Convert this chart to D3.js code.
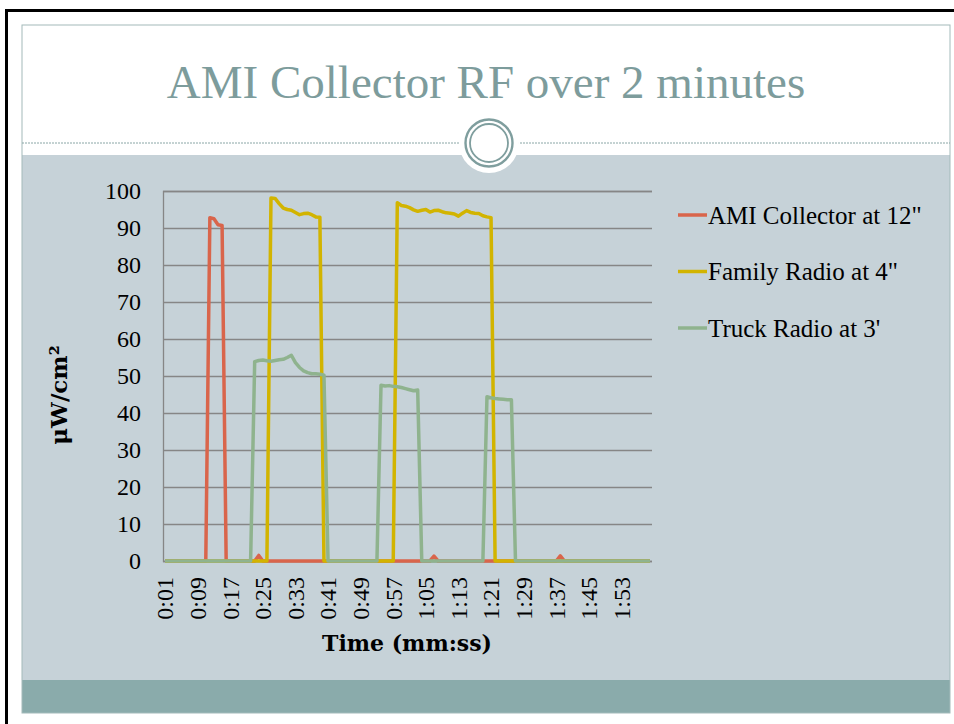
<!DOCTYPE html>
<html>
<head>
<meta charset="utf-8">
<script src="https://cdn.jsdelivr.net/npm/d3@7"></script>
<style>
  body { margin: 0; background: #fff; }
  svg { display: block; }
</style>
</head>
<body>
<svg id="canvas"></svg>
<script>
// seconds 0:01 .. 2:00, one reading per second
const seconds = d3.range(1, 121);
const tickLabels = ["0:01", "0:09", "0:17", "0:25", "0:33", "0:41", "0:49", "0:57",
  "1:05", "1:13", "1:21", "1:29", "1:37", "1:45", "1:53"];
const yTicks = [0, 10, 20, 30, 40, 50, 60, 70, 80, 90, 100];

const amiCollector = [
  0, 0, 0, 0, 0, 0, 0, 0, 0, 0,
  0, 92.8, 92.5, 90.9, 90.7, 0, 0, 0, 0, 0,
  0, 0, 0, 1.5, 0, 0, 0, 0, 0, 0,
  0, 0, 0, 0, 0, 0, 0, 0, 0, 0,
  0, 0, 0, 0, 0, 0, 0, 0, 0, 0,
  0, 0, 0, 0, 0, 0, 0, 0, 0, 0,
  0, 0, 0, 0, 0, 0, 1.3, 0, 0, 0,
  0, 0, 0, 0, 0, 0, 0, 0, 0, 0,
  0, 0, 0, 0, 0, 0, 0, 0, 0, 0,
  0, 0, 0, 0, 0, 0, 0, 1.4, 0, 0,
  0, 0, 0, 0, 0, 0, 0, 0, 0, 0,
  0, 0, 0, 0, 0, 0, 0, 0, 0, 0
];
const familyRadio = [
  0, 0, 0, 0, 0, 0, 0, 0, 0, 0,
  0, 0, 0, 0, 0, 0, 0, 0, 0, 0,
  0, 0, 0, 0, 0, 0, 98.1, 98.0, 96.6, 95.4,
  95.0, 94.8, 94.2, 93.6, 93.9, 94.0, 93.6, 93.0, 92.9, 0,
  0, 0, 0, 0, 0, 0, 0, 0, 0, 0,
  0, 0, 0, 0, 0, 0, 0, 96.8, 96.1, 95.9,
  95.5, 94.9, 94.5, 94.8, 95.0, 94.3, 94.7, 94.8, 94.4, 94.1,
  94.0, 93.8, 93.2, 94.0, 94.7, 94.2, 94.0, 93.9, 93.3, 93.0,
  92.8, 0, 0, 0, 0, 0, 0, 0, 0, 0,
  0, 0, 0, 0, 0, 0, 0, 0, 0, 0,
  0, 0, 0, 0, 0, 0, 0, 0, 0, 0,
  0, 0, 0, 0, 0, 0, 0, 0, 0, 0
];
const truckRadio = [
  0, 0, 0, 0, 0, 0, 0, 0, 0, 0,
  0, 0, 0, 0, 0, 0, 0, 0, 0, 0,
  0, 0, 53.9, 54.2, 54.3, 54.1, 54.0, 54.2, 54.4, 54.5,
  55.0, 55.6, 53.6, 52.3, 51.4, 50.9, 50.6, 50.6, 50.5, 50.2,
  0, 0, 0, 0, 0, 0, 0, 0, 0, 0,
  0, 0, 0, 47.5, 47.3, 47.4, 47.2, 47.1, 46.9, 46.6,
  46.3, 46.0, 46.2, 0, 0, 0, 0, 0, 0, 0,
  0, 0, 0, 0, 0, 0, 0, 0, 0, 44.4,
  44.1, 43.9, 43.8, 43.7, 43.6, 43.6, 0, 0, 0, 0,
  0, 0, 0, 0, 0, 0, 0, 0, 0, 0,
  0, 0, 0, 0, 0, 0, 0, 0, 0, 0,
  0, 0, 0, 0, 0, 0, 0, 0, 0, 0
];

const seriesNames = ["AMI Collector at 12\"", "Family Radio at 4\"", "Truck Radio at 3'"];
const seriesColors = ["#d9654b", "#d2b400", "#8fb38e"];

const series = [amiCollector, familyRadio, truckRadio].map((vals, i) => ({
  name: seriesNames[i],
  color: seriesColors[i],
  values: vals.map((v, j) => ({ sec: seconds[j], value: v }))
}));

const fmtSec = (s) => `${Math.floor(s / 60)}:${String(s % 60).padStart(2, "0")}`;
const tickSecs = tickLabels.map((l) => {
  const [m, s] = l.split(":");
  return +m * 60 + +s;
});

const W = 954, H = 724;
const svg = d3.select("#canvas").attr("width", W).attr("height", H);
const serif = "'Liberation Serif', 'Times New Roman', serif";
const serifBold = "'DejaVu Serif', Georgia, serif";

// slide frame
svg.append("rect").attr("x", 0).attr("y", 0).attr("width", W).attr("height", H).attr("fill", "#fff");
svg.append("rect")
  .attr("x", 22).attr("y", 155).attr("width", 928).attr("height", 525)
  .attr("fill", "#c6d2d8");
svg.append("rect")
  .attr("x", 22).attr("y", 680).attr("width", 928).attr("height", 33)
  .attr("fill", "#8aabab");
svg.append("rect")
  .attr("x", 22).attr("y", 25).attr("width", 928).attr("height", 688)
  .attr("fill", "none").attr("stroke", "#a3baba").attr("stroke-width", 1);
svg.append("line")
  .attr("x1", 22).attr("x2", 950).attr("y1", 143).attr("y2", 143)
  .attr("stroke", "#8aa6a6").attr("stroke-dasharray", "2,1").attr("stroke-width", 1);

// black border at top and left
svg.append("line").attr("x1", 5).attr("x2", W).attr("y1", 10.5).attr("y2", 10.5)
  .attr("stroke", "#000").attr("stroke-width", 3);
svg.append("line").attr("x1", 6.5).attr("x2", 6.5).attr("y1", 9).attr("y2", H)
  .attr("stroke", "#000").attr("stroke-width", 3);

// ornament circle
svg.append("circle").attr("cx", 489).attr("cy", 143).attr("r", 30).attr("fill", "#fff");
svg.append("circle").attr("cx", 489).attr("cy", 143).attr("r", 23.5)
  .attr("fill", "none").attr("stroke", "#7f9e9e").attr("stroke-width", 2.4);
svg.append("circle").attr("cx", 489).attr("cy", 143).attr("r", 19)
  .attr("fill", "none").attr("stroke", "#7f9e9e").attr("stroke-width", 1.8);

svg.append("text")
  .attr("x", 486).attr("y", 98)
  .attr("text-anchor", "middle")
  .attr("font-family", serif).attr("font-size", 47)
  .attr("fill", "#7d9c9c")
  .text("AMI Collector RF over 2 minutes");

// plot
const plot = { left: 163, right: 652, top: 191, bottom: 561 };

const x = d3.scaleBand().domain(seconds).range([plot.left, plot.right]).paddingInner(0).paddingOuter(0);
const y = d3.scaleLinear().domain([0, 100]).range([plot.bottom, plot.top]);
const cx = (s) => x(s) + x.bandwidth() / 2;

const yAxis = svg.append("g")
  .attr("transform", `translate(${plot.left},0)`)
  .call(d3.axisLeft(y).tickValues(yTicks).tickSize(-(plot.right - plot.left)).tickPadding(22));
yAxis.select(".domain").attr("stroke", "#868686").attr("stroke-width", 1.3);
yAxis.selectAll(".tick line").attr("stroke", "#868686").attr("stroke-width", 1.3);
yAxis.selectAll(".tick text")
  .attr("font-family", serif).attr("font-size", 24).attr("fill", "#000");

const xAxis = svg.append("g")
  .attr("transform", `translate(0,${plot.bottom})`)
  .call(d3.axisBottom(x).tickValues(tickSecs).tickFormat(fmtSec).tickSize(0));
xAxis.select(".domain").remove();
xAxis.selectAll(".tick text")
  .attr("font-family", serif).attr("font-size", 24).attr("fill", "#000")
  .attr("transform", "rotate(-90)")
  .attr("text-anchor", "end")
  .attr("x", -16).attr("y", 0).attr("dy", "0.35em");

const line = d3.line()
  .x((d) => cx(d.sec))
  .y((d) => y(d.value));

svg.append("g")
  .selectAll("path")
  .data(series)
  .join("path")
  .attr("fill", "none")
  .attr("stroke", (d) => d.color)
  .attr("stroke-width", 3.5)
  .attr("stroke-linejoin", "round")
  .attr("d", (d) => line(d.values));

// axis titles
svg.append("text")
  .attr("x", 407).attr("y", 651)
  .attr("text-anchor", "middle")
  .attr("font-family", serifBold).attr("font-weight", "bold").attr("font-size", 22)
  .text("Time (mm:ss)");
svg.append("text")
  .attr("transform", "translate(67,395) rotate(-90)")
  .attr("text-anchor", "middle")
  .attr("font-family", serifBold).attr("font-weight", "bold").attr("font-size", 23)
  .text("μW/cm²");

// legend
const legend = svg.append("g")
  .selectAll("g")
  .data(series)
  .join("g")
  .attr("transform", (d, i) => `translate(678,${215 + i * 56.5})`);
legend.append("line")
  .attr("x1", 0).attr("x2", 29)
  .attr("stroke", (d) => d.color).attr("stroke-width", 3.5);
legend.append("text")
  .attr("x", 30).attr("dy", "0.35em")
  .attr("font-family", serif).attr("font-size", 25)
  .text((d) => d.name);
</script>
</body>
</html>
